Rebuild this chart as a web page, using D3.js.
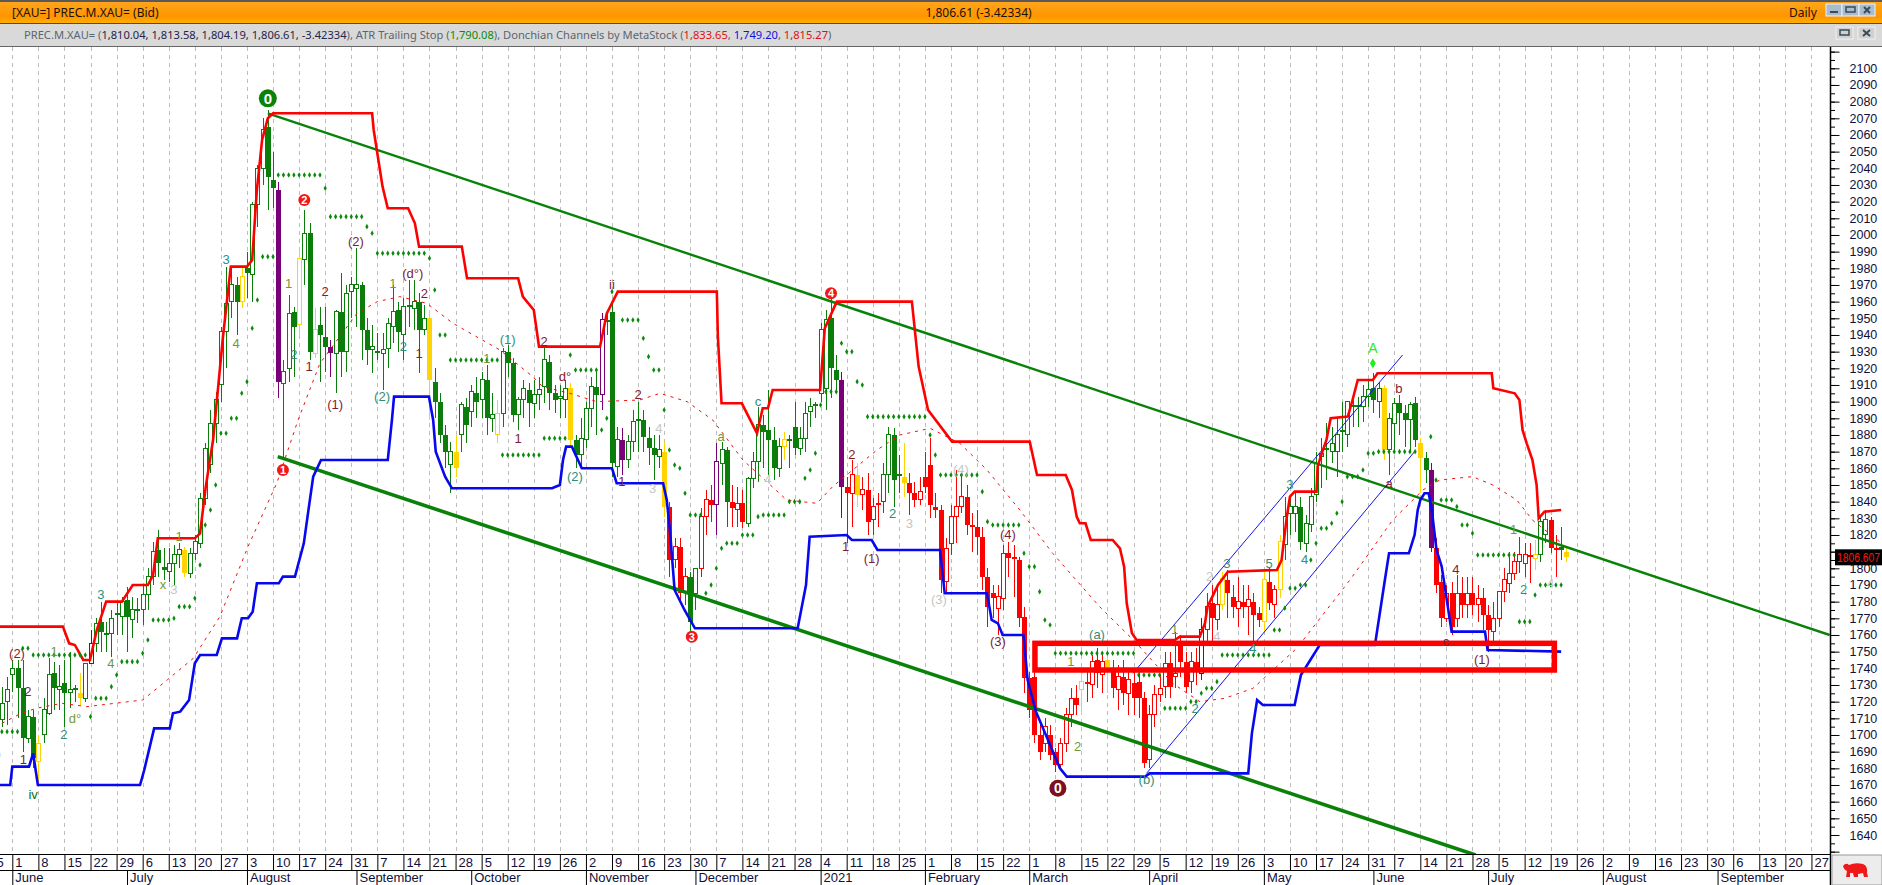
<!DOCTYPE html>
<html><head><meta charset="utf-8"><title>XAU Daily</title>
<style>html,body{margin:0;padding:0;background:#fff;overflow:hidden}svg{display:block}
text{font-family:"Liberation Sans",Arial,sans-serif}
.hdr{font-family:"Noto Sans",sans-serif;font-size:12px}</style>
<script src="https://cdn.jsdelivr.net/npm/d3@7/dist/d3.min.js"></script></head><body>
<script>
// ---------- header text ----------
const titleLeft = "[XAU=] PREC.M.XAU= (Bid)";
const titleMid = "1,806.61 (-3.42334)";
const titleRight = "Daily";
const legendRuns = [["PREC.M.XAU= (","#5a6570"],["1,810.04, 1,813.58, 1,804.19, 1,806.61, -3.42334","#24244a"],["), ATR Trailing Stop (","#5a6570"],["1,790.08","#0a8a0a"],["), Donchian Channels by MetaStock (","#5a6570"],["1,833.65","#e01010"],[", ","#5a6570"],["1,749.20","#1010e0"],[", ","#5a6570"],["1,815.27","#e01010"],[")","#5a6570"]];
// ---------- axes ----------
const priceLabels = d3.range(1640, 2101, 10).filter(p=>p!==1810);
const priceMinor = d3.range(1630, 2111, 5);
const weekLabels = ["25","1","8","15","22","29","6","13","20","27","3","10","17","24","31","7","14","21","28","5","12","19","26","2","9","16","23","30","7","14","21","28","4","11","18","25","1","8","15","22","1","8","15","22","29","5","12","19","26","3","10","17","24","31","7","14","21","28","5","12","19","26","2","9","16","23","30","6","13","20","27"];
const monthLabels = ["June","July","August","September","October","November","December","2021","February","March","April","May","June","July","August","September"];
const monthBars = [0,22,45,66,88,110,131,155,175,195,218,240,261,283,305,327];
// ---------- candles: [open, high, low, close, tag] (tag y = yellow, p = purple) ----------
const barsA = [[1709,1729,1705,1719],[1720,1735,1706,1727],[1736,1745,1726,1740],[1740,1745,1710,1728],[1728,1745,1690,1698],[1698,1715,1695,1711],[1711,1715,1680,1686],[1684,1700,1672,1695,"y"],[1700,1722,1695,1715],[1713,1746,1712,1736],[1737,1744,1715,1728],[1727,1742,1715,1729],[1731,1745,1705,1725],[1725.5,1750,1716,1727],[1728,1730,1720,1727],[1725,1737,1718,1722,"y"],[1722,1743,1720,1743],[1743,1763,1743,1755,"p"],[1755,1770,1750,1767],[1768,1780,1750,1762],[1760,1768,1750,1761],[1761,1775,1747,1770],[1773,1780,1760,1772],[1771,1783,1760,1780],[1781,1789,1750,1771],[1769,1783,1758,1775],[1775,1782,1767,1775.5],[1775,1790,1766,1784],[1784,1800,1775,1795],[1795,1816,1790,1810],[1811,1823,1795,1803],[1801,1812,1793,1799],[1798,1812,1792,1803],[1803,1814,1790,1808],[1808,1815,1800,1811],[1811,1813,1795,1797,"y"],[1797,1812,1794,1809],[1809,1820,1805,1816],[1815,1845,1812,1842],[1842,1875,1838,1872],[1862,1895,1857,1887],[1887,1906,1875,1901],[1910,1945,1900,1942]];
const barsB = [[1942,1981,1920,1959],[1960,1980,1950,1970],[1970,1975,1940,1960],[1960,1980,1956,1975,"y"],[1980,1990,1962,1977],[1976,2020,1960,2018],[2018,2042,2005,2040],[2040,2070,2030,2063],[2065,2075,2015,2035],[2033,2050,2016,2028],[2027,2032,1902,1912,"p"],[1911,1925,1867,1918],[1920,1964,1912,1953],[1954,1957,1915,1945],[1946,1991,1940,1986,"y"],[1985,2015,1970,2001],[2001,2007,1925,1930],[1929,1956,1926,1943,"y"],[1946,1957,1912,1940],[1939,1957,1918,1933],[1933,1937,1915,1929,"p"],[1929,1955,1905,1954],[1954,1977,1915,1930],[1930,1970,1918,1965],[1966,1975,1950,1970],[1968,1992,1945,1970],[1970,1972,1925,1943],[1943,1950,1922,1931],[1931,1946,1917,1933],[1930.5,1941,1925,1930],[1929,1941,1907,1931],[1932,1950,1920,1947],[1945,1970,1935,1954],[1955,1960,1930,1942],[1940,1962,1925,1957],[1957,1973,1945,1957.5],[1956,1973,1943,1960],[1960,1965,1917,1943],[1943,1958,1940,1950],[1950,1955,1889,1913,"y"],[1912,1920,1890,1900],[1900,1905,1875,1880]];
const barsC = [[1880,1886,1860,1870],[1862,1876,1845,1870],[1870,1880,1855,1860,"y"],[1880,1900,1870,1898],[1897,1902,1875,1886],[1894,1910,1885,1906],[1905,1915,1890,1900],[1901,1918,1890,1913],[1913,1922,1880,1890],[1890,1905,1882,1892],[1880,1901,1875,1893,"y"],[1893,1932,1885,1930],[1930,1934,1915,1923],[1923,1926,1888,1892],[1892,1903,1883,1901],[1901,1913,1890,1908],[1907,1911,1885,1899],[1899,1913,1890,1904],[1904,1915,1895,1907],[1909,1932,1899,1925],[1924,1928,1895,1905],[1905,1910,1893,1901],[1902,1910,1890,1903],[1901,1913,1890,1908],[1908,1911,1873,1877,"y"],[1877,1880,1860,1868],[1868,1890,1860,1878],[1877,1900,1872,1896],[1896,1915,1885,1909],[1909,1918,1880,1904],[1904,1953,1895,1949,"p"],[1948,1955,1940,1948.5],[1954,1960,1855,1863],[1861,1885,1855,1877],[1877,1884,1856,1865,"p"],[1865,1880,1860,1876],[1876,1895,1870,1888],[1889,1900,1870,1889.5],[1889,1895,1870,1879],[1878,1885,1862,1872],[1872,1880,1853,1868],[1867,1880,1860,1871],[1870,1876,1831,1837,"y"],[1837,1840,1795,1805]];
const barsD = [[1805,1818,1800,1813],[1813,1818,1780,1785],[1786,1800,1778,1795],[1795,1798,1762,1768],[1785,1796,1775,1800],[1800,1836,1795,1831],[1831,1847,1820,1841],[1841,1850,1828,1838],[1838,1875,1820,1864,"p"],[1863,1876,1850,1871],[1871,1873,1825,1840],[1840,1850,1825,1836],[1835,1849,1825,1839],[1839,1847,1824,1828],[1827,1855,1825,1854],[1854,1870,1848,1864],[1864,1897,1852,1886],[1886,1892,1860,1882],[1883,1907,1856,1877],[1877,1885,1853,1860],[1860,1878,1855,1873],[1873,1882,1865,1877,"y"],[1877,1880,1860,1877.5],[1885,1900,1868,1872],[1872,1885,1868,1878],[1878,1900,1870,1893],[1894,1902,1885,1897],[1898,1900,1890,1898.5],[1905,1947,1900,1943],[1908,1955,1895,1949],[1950,1962,1902,1920],[1919,1928,1905,1913],[1913,1918,1830,1849,"p"],[1849,1855,1815,1845],[1845,1865,1825,1856],[1856,1863,1837,1844,"y"],[1844,1855,1835,1847],[1847,1857,1820,1828],[1829,1842,1820,1837],[1838,1845,1825,1839]];
const barsE = [[1840,1863,1833,1856],[1856,1885,1845,1880],[1880,1884,1837,1853],[1856,1868,1845,1856.5],[1855,1875,1843,1851,"y"],[1851,1857,1832,1845],[1845,1852,1837,1841],[1841,1855,1838,1846],[1855,1870,1845,1849],[1862,1878,1830,1838],[1837,1845,1830,1835],[1835,1838,1785,1793],[1792,1818,1785,1812],[1815,1838,1808,1831],[1831,1859,1815,1837],[1837,1855,1833,1843],[1843,1850,1820,1826],[1826,1833,1810,1825],[1825,1835,1808,1819],[1819,1825,1787,1795],[1795,1800,1765,1777],[1785,1790,1770,1782],[1776,1790,1760,1783],[1782,1814,1775,1809],[1809,1816,1795,1806],[1806,1814,1783,1806.5],[1805,1807,1765,1770],[1771,1777,1725,1734],[1734,1738,1710,1715],[1735,1745,1695,1700],[1700,1708,1685,1690],[1695,1710,1690,1705],[1700,1706,1685,1688],[1690,1692,1678,1682],[1682,1698,1680,1695],[1695,1716,1690,1712],[1712,1728,1705,1722],[1722,1730,1712,1718],[1727,1740,1712,1732,"y"],[1732,1738,1720,1731],[1730,1748,1722,1744],[1745,1752,1728,1737],[1736,1750,1725,1744],[1745,1752,1725,1741,"y"],[1739,1745,1722,1728],[1727,1742,1715,1735],[1735,1745,1718,1725],[1725,1740,1712,1733],[1731,1738,1712,1722],[1732,1738,1710,1722]];
const barsF = [[1722,1726,1680,1683],[1685,1718,1680,1712],[1712,1730,1705,1724],[1724,1736,1720,1728],[1729,1750,1722,1743],[1743,1750,1722,1729],[1735,1762,1728,1737],[1754,1760,1735,1744],[1744,1750,1725,1729],[1732,1750,1725,1744],[1744,1752,1730,1738],[1737,1770,1733,1763,"p"],[1763,1785,1755,1777],[1779,1790,1755,1770],[1769,1790,1763,1778],[1778,1798,1775,1794,"y"],[1793,1799,1770,1785],[1783,1790,1770,1777],[1776,1795,1765,1780],[1780,1790,1770,1777],[1777,1790,1760,1781],[1780,1785,1755,1772],[1773,1777,1765,1769],[1768,1798,1762,1793,"y"],[1792,1800,1775,1779],[1778,1790,1770,1787],[1787,1820,1782,1816,"y"],[1814,1843,1805,1831],[1833,1843,1820,1837],[1833,1845,1822,1837],[1837,1843,1811,1816],[1815,1832,1810,1827],[1826,1848,1822,1843],[1844,1870,1840,1863],[1867,1878,1848,1869],[1871,1887,1853,1872],[1870,1885,1863,1875],[1870,1890,1855,1880],[1882,1900,1870,1882.5],[1880,1900,1873,1900],[1897,1905,1885,1897.5],[1897,1903,1885,1897.5]];
const barsG = [[1897,1910,1888,1903],[1903,1913,1897,1907],[1908,1917,1893,1901],[1900,1912,1890,1908],[1908,1910,1865,1871,"y"],[1871,1893,1856,1890],[1887,1902,1870,1899],[1899,1904,1880,1893],[1893,1898,1873,1889],[1889,1900,1870,1898],[1899,1903,1873,1877],[1875,1878,1845,1866,"y"],[1866,1870,1851,1859],[1859,1863,1810,1812,"p"],[1812,1818,1785,1790],[1792,1796,1765,1770],[1770,1790,1768,1785],[1785,1792,1760,1765],[1770,1796,1765,1785],[1785,1795,1770,1778],[1778,1795,1770,1785],[1785,1795,1772,1778],[1778,1790,1768,1782],[1782,1788,1763,1772],[1772,1778,1750,1763],[1762,1780,1755,1770],[1770,1786,1765,1786],[1786,1800,1780,1793],[1791,1810,1785,1797],[1797,1810,1793,1804],[1804,1819,1797,1808],[1803,1815,1795,1808],[1808,1815,1791,1807],[1806,1817,1799,1808,"y"],[1808,1830,1804,1828],[1820,1835,1815,1829],[1829,1831,1809,1812],[1811,1820,1795,1812],[1813,1825,1805,1811],[1810,1813.6,1804,1807,"y"]];
const candleSegments = [[-2,barsA],[41,barsB],[83,barsC],[127,barsD],[167,barsE],[217,barsF],[259,barsG]];
const redSpans = [[126,129],[132,134],[138,140],[160,166],[172,243],[273,291],[295,296]];
// ---------- indicator lines: [bar, price] ----------
const donchianUpper = [[-3,1765],[9.7,1765],[10.9,1755],[12,1754],[13.6,1745],[14.9,1745],[16.2,1763],[18,1780],[21,1780],[23.1,1790],[26,1790],[27,1796],[27.9,1818],[35,1818],[36,1821],[37.1,1849],[38.5,1877],[40.4,1939],[41.9,1981],[45,1981],[46,1985],[46.9,2027],[47.9,2057],[49,2070],[50,2073],[69,2073],[69.3,2063],[71,2029],[72,2016],[75.9,2016],[77.2,2007],[78,1993],[86.2,1993],[87.2,1974],[97,1974],[97.9,1963],[100,1955],[101,1933],[112.7,1933],[114,1953],[116.1,1966],[135.1,1966],[135.3,1939],[136,1899],[139.9,1899],[142.8,1881],[143.9,1896],[144.9,1896],[145.8,1907],[154.9,1907],[155.8,1944],[158.1,1960],[172.5,1960],[173.8,1921],[175.6,1895],[180.2,1876],[195.1,1876],[196.5,1856],[202,1856],[203.2,1847],[204.1,1831],[204.7,1827],[205.8,1827],[206.8,1817],[211,1817],[212.4,1812],[213.2,1801],[213.7,1779],[214.7,1761],[215.6,1757],[222.9,1757],[223.9,1759],[227.7,1759],[228.7,1767],[229.2,1777],[231.2,1790],[233.1,1798],[242.5,1799],[243.4,1805],[244.4,1831],[245,1843],[245.9,1846],[250.1,1846],[250.3,1861],[251.1,1869],[252,1877],[252.8,1890],[256.1,1891],[257,1901],[258,1913],[260.9,1913],[261.8,1917],[283.7,1917],[284,1908],[288.1,1905],[289,1901],[289.6,1883],[290.4,1875],[291.5,1865],[292.3,1850],[292.7,1830],[293.8,1834],[297,1835]];
const donchianLower = [[-3,1670],[-0.4,1670],[0,1681],[3.2,1681],[4,1689],[4.9,1670],[24.5,1670],[25.3,1679],[27.2,1704],[30.2,1704],[30.8,1713],[32.2,1714],[33.9,1721],[35,1743],[36,1748],[39.2,1748],[40.2,1758],[43.1,1758],[44,1770],[45.2,1770],[46.1,1774],[46.9,1791],[51.1,1791],[51.9,1795],[54.2,1795],[55.9,1815],[56.7,1833],[57.7,1855],[59.2,1865],[72,1865],[72.8,1889],[73.2,1903],[79.9,1903],[80.7,1889],[81.2,1870],[83,1855],[84.3,1848],[103.5,1848],[105,1850],[105.6,1865],[106.2,1873],[107.3,1873],[109.2,1860],[115,1860],[115.9,1851],[124.8,1851],[125.5,1841],[126.1,1823],[127,1787],[128.9,1775],[130.9,1764],[150.6,1764],[152.2,1790],[152.9,1819],[160,1820],[161,1817],[164.8,1817],[165.9,1811],[177.9,1811],[178.8,1785],[186.9,1785],[187.8,1769],[189,1767],[189.9,1760],[193.9,1760],[194.7,1733],[196.3,1714],[200.9,1680],[202.2,1675],[217.2,1675],[218.1,1677],[237,1677],[237.7,1701],[238.7,1721],[239.8,1718],[245.9,1718],[247.1,1736],[250.7,1754],[261.3,1754],[263.2,1793],[264,1809],[267.8,1809],[268.9,1820],[269.5,1835],[270,1841],[270.8,1845],[271.6,1845],[272.2,1835],[273.1,1811],[274.1,1801],[276,1762],[282.4,1762],[282.9,1751],[297,1750]];
const donchianMid = [[-2,1707],[1.1,1712],[4.5,1716],[9.5,1719],[14.3,1717],[25,1721],[29.7,1733],[34.7,1746],[39.8,1771],[45.2,1813],[50.7,1851],[54.8,1889],[59,1923],[66.1,1953],[70,1960],[74.3,1963],[79.5,1959],[84.5,1947],[93.5,1931],[99.8,1915],[101.7,1909],[106.9,1905],[112.1,1900],[120.3,1901],[124.2,1905],[129.4,1900],[134.3,1889],[140.1,1865],[148.5,1841],[154.3,1839],[157.3,1849],[165.8,1871],[170.2,1880],[176,1884],[181.7,1875],[186.9,1859],[193.2,1835],[199.5,1809],[208.5,1777],[215.6,1755],[222.5,1731],[227.7,1720],[232.5,1722],[237.9,1728],[246.3,1752],[256.5,1793],[264.7,1829],[270.5,1847],[273.7,1853],[280,1855],[283.9,1850],[288.5,1841],[291.5,1829],[296.7,1816]];
const channelTop = [[49,2073],[348.5,1760]];
const channelBottom = [[50.9,1867],[280.6,1628]];
const riseTop = [[214.9,1737],[266.6,1928]];
const riseBottom = [[217.5,1677],[268.9,1870]];
const zoneBox = [196.1,295.7,1755,1739];
// ---------- ATR trailing stop: [first bar, last bar, price] ----------
const stopRuns = [[-2,1,1702],[2,3,1752],[4,14,1748],[15,15,1711],[16,18,1722],[19,19,1729],[20,20,1736],[21,24,1744],[25,25,1749],[26,26,1757],[27,30,1769],[31,31,1770],[32,34,1777],[35,35,1782],[36,36,1802],[37,37,1826],[38,38,1835],[39,39,1850],[40,41,1881],[42,43,1890],[44,44,1905],[45,45,1912],[46,46,1944],[47,47,1961],[48,50,1987],[51,59,2036],[60,60,2028],[61,67,2011],[68,68,2005],[69,69,2001],[70,79,1989],[80,80,1986],[81,81,1967],[82,83,1940],[84,93,1925],[94,101,1868],[102,106,1878],[107,107,1928],[108,112,1919],[113,113,1883],[114,114,1890],[115,115,1966],[117,120,1949],[121,121,1938],[122,122,1927],[123,124,1919],[125,125,1895],[126,126,1871],[127,127,1862],[128,128,1860],[129,129,1845],[130,132,1832],[133,133,1785],[134,134,1790],[135,135,1800],[136,136,1812],[137,139,1815],[140,142,1820],[143,143,1831],[144,148,1832],[149,151,1840],[152,152,1854],[153,153,1859],[154,154,1869],[155,155,1898],[156,158,1906],[159,159,1935],[160,161,1930],[162,162,1912],[163,163,1910],[164,175,1891],[176,176,1880],[177,177,1868],[178,185,1856],[186,186,1846],[187,187,1828],[188,193,1826],[194,194,1809],[195,196,1801],[197,197,1786],[198,198,1769],[199,199,1766],[200,215,1749],[216,220,1736],[221,225,1716],[226,227,1720],[228,228,1725],[229,230,1728],[231,231,1732],[232,241,1748],[242,243,1763],[244,244,1776],[245,246,1788],[247,248,1790],[249,249,1805],[250,250,1815],[251,252,1824],[253,253,1827],[254,254,1833],[255,255,1840],[256,258,1855],[259,259,1859],[260,261,1869],[262,269,1870],[272,272,1879],[273,273,1853],[274,276,1841],[277,277,1837],[278,279,1826],[280,280,1821],[281,288,1808],[289,291,1768],[292,292,1784],[293,297,1790]];
const accentStop = [[260.9,1923]];
// ---------- wave labels: [bar, price, text, family] ----------
const waveBrown = [[0.9,1749,"(2)"],[3,1726,"2"],[2.1,1685,"1"],[-3.7,1689,"(1)"],[65.9,1996,"(2)"],[60,1966,"2"],[56.9,1921,"1"],[61.9,1898,"(1)"],[76.8,1977,"(d°)"],[79,1965,"2"],[78,1929,"1"],[102,1936,"2"],[106,1915,"d°"],[97,1878,"1"],[115,1970,"ii"],[120,1904,"2"],[116.9,1852,"1"],[161,1868,"2"],[159.8,1813,"1"],[164.8,1806,"(1)"],[190.9,1820,"(4)"],[189,1756,"(3)"],[264,1851,"a"],[276.8,1799,"4"],[265.9,1908,"b"],[281.8,1745,"(1)"],[274.9,1756,"c"]];
const waveTeal = [[17,1784,"3"],[9.9,1700,"2"],[41,1985,"3"],[54,1928,"2"],[75,1933,"2"],[70.9,1903,"(2)"],[95,1937,"(1)"],[107.9,1855,"(2)"],[143,1900,"c"],[168.8,1833,"2"],[208,1760,"(a)"],[232.9,1803,"3"],[241,1803,"5"],[237.9,1752,"4"],[245,1850,"3"],[217.5,1673,"(b)"],[226.8,1716,"2"],[247.8,1805,"4"],[289.8,1787,"2"]];
const waveOlive = [[8,1750,"1"],[18.9,1743,"4"],[28.9,1790,"x"],[32,1819,"1"],[12,1710,"d°"],[42.9,1935,"4"],[53,1971,"1"],[73,1971,"1"],[91,1926,"1"],[135.9,1879,"a"],[222.9,1763,"1"],[203,1744,"1"],[204.3,1693,"2"],[287.9,1823,"1"]];
const waveGrey = [[31,1787,"3"],[124,1884,"4"],[122.8,1848,"3"],[144.9,1853,"4"],[172,1827,"3"],[181.9,1859,"(4)"],[177.7,1781,"(3)"],[229.6,1795,"2"],[231,1759,"4"],[295,1791,"4"]];
const waveDark = [[4,1664,"iv"]];
const waveBright = [[260.9,1932,"A"]];
const markersRed = [[51.9,1859,"1"],[56,2021,"2"],[130.3,1759,"3"],[157,1965,"4"]];
const markerGreen = [[49,2082,"0"]];
const markerBrown = [[200.5,1668,"0"]];
const lastQuote = 1806.607;

// ---------- scales ----------
const W = 1882, H = 885;
const x = d3.scaleLinear().domain([0,295]).range([12.3,1550.7]);
const y = d3.scaleLinear().domain([2100,1640]).range([68.3,835]);
const svg = d3.select("body").append("svg").attr("width",W).attr("height",H);
const defs = svg.append("defs");
const grad = defs.append("linearGradient").attr("id","org").attr("x1",0).attr("x2",0).attr("y1",0).attr("y2",1);
grad.append("stop").attr("offset","0").attr("stop-color","#ffa51c");
grad.append("stop").attr("offset","0.7").attr("stop-color","#ff9500");
grad.append("stop").attr("offset","1").attr("stop-color","#ffb000");
defs.append("clipPath").attr("id","plot").append("rect").attr("x",0).attr("y",47).attr("width",1830).attr("height",807);

// chrome
svg.append("rect").attr("width",W).attr("height",2).attr("fill","#5a5a5a");
svg.append("rect").attr("y",2).attr("width",W).attr("height",21).attr("fill","url(#org)");
svg.append("rect").attr("y",23).attr("width",W).attr("height",1).attr("fill","#4a4a4a");
svg.append("rect").attr("y",24).attr("width",W).attr("height",22).attr("fill","#d9d9d9");
svg.append("rect").attr("y",46).attr("width",W).attr("height",1).attr("fill","#666");
svg.append("text").attr("class","hdr").attr("x",12).attr("y",17).attr("fill","#1a1208").text(titleLeft);
svg.append("text").attr("class","hdr").attr("x",978.5).attr("y",17).attr("text-anchor","middle").attr("fill","#1a1208").text(titleMid);
svg.append("text").attr("class","hdr").attr("x",1789).attr("y",17).attr("fill","#1a1208").text(titleRight);
const leg = svg.append("text").attr("class","hdr").attr("x",24).attr("y",39).style("font-size","11.15px");
legendRuns.forEach(r=>leg.append("tspan").attr("fill",r[1]).text(r[0]));
function winBtn(x0,y0,w,h,glyph,fill){
  const g=svg.append("g");
  g.append("rect").attr("x",x0).attr("y",y0).attr("width",w).attr("height",h).attr("fill",fill).attr("stroke","#eef2f6");
  const c="#3a4a5a";
  if(glyph==="min") g.append("rect").attr("x",x0+4).attr("y",y0+h-5).attr("width",w-8).attr("height",2).attr("fill",c);
  if(glyph==="max") g.append("rect").attr("x",x0+4).attr("y",y0+3).attr("width",w-8).attr("height",h-7).attr("fill","none").attr("stroke",c).attr("stroke-width",1.5);
  if(glyph==="x") g.append("path").attr("d",`M${x0+5} ${y0+3}L${x0+w-5} ${y0+h-3}M${x0+w-5} ${y0+3}L${x0+5} ${y0+h-3}`).attr("stroke",c).attr("stroke-width",2);
}
winBtn(1826,4,16,12,"min","#a9bccd");winBtn(1842,4,17,12,"max","#a9bccd");winBtn(1859,4,16,12,"x","#a9bccd");
winBtn(1836,27,17,12,"max","#d0d0d0");winBtn(1858,27,17,12,"x","#d0d0d0");

// gridlines, one per week label
const weekBars = weekLabels.map((_,k)=>(k-1)*5);
svg.append("g").selectAll("line").data(weekBars).join("line")
  .attr("x1",d=>Math.round(x(d))+.5).attr("x2",d=>Math.round(x(d))+.5).attr("y1",47).attr("y2",854)
  .attr("stroke","#bdbdbd").attr("stroke-dasharray","4,4");

// candles
const plot = svg.append("g").attr("clip-path","url(#plot)");
const candles = candleSegments.flatMap(([start,rows])=>rows.map((r,k)=>({i:start+k,o:r[0],h:r[1],l:r[2],c:r[3],tag:r[4]})));
const isRed = i=>redSpans.some(s=>i>=s[0]&&i<=s[1]);
const tone = d=>d.tag==="y"?"#ffd400":d.tag==="p"?"#7a007a":isRed(d.i)?"#ff0000":"#0a7d0a";
const cg = plot.append("g").attr("shape-rendering","crispEdges");
const px = d=>Math.round(x(d.i));
cg.selectAll("line").data(candles).join("line")
  .attr("x1",d=>px(d)+.5).attr("x2",d=>px(d)+.5).attr("y1",d=>y(d.h)).attr("y2",d=>y(d.l)).attr("stroke",tone);
cg.selectAll("rect").data(candles).join("rect")
  .attr("x",d=>d.c>=d.o?px(d)-1.5:px(d)-2).attr("width",d=>d.c>=d.o?4:5)
  .attr("y",d=>y(Math.max(d.o,d.c))).attr("height",d=>Math.max(d.c>=d.o?1:2,Math.abs(y(d.o)-y(d.c))))
  .attr("fill",d=>d.c>=d.o?"#fff":tone(d)).attr("stroke",d=>d.c>=d.o?tone(d):"none");

// lines
const line = d3.line().x(d=>x(d[0])).y(d=>y(d[1]));
plot.append("path").attr("d",line(donchianMid)).attr("fill","none").attr("stroke","#f01010").attr("stroke-dasharray","3,5");
[[channelTop,"#0a820a",2.4],[channelBottom,"#0a820a",3.6],[riseTop,"#1414e0",1],[riseBottom,"#1414e0",1]].forEach(([d,c,w])=>
  plot.append("path").attr("d",line(d)).attr("fill","none").attr("stroke",c).attr("stroke-width",w));
plot.append("path").attr("d",line(donchianLower)).attr("fill","none").attr("stroke","#0808f0").attr("stroke-width",2.6);
plot.append("path").attr("d",line(donchianUpper)).attr("fill","none").attr("stroke","#ff0000").attr("stroke-width",2.6);

// stop dots
const stopDots = stopRuns.flatMap(([a,b,p])=>d3.range(a,b+1).map(i=>[i,p]));
const diamond = d3.symbol().type(d3.symbolDiamond).size(9);
plot.append("g").selectAll("path").data(stopDots).join("path").attr("d",diamond)
  .attr("transform",d=>`translate(${x(d[0])},${y(d[1])})`).attr("fill","#0a8a0a");
plot.append("g").selectAll("path").data(accentStop).join("path").attr("d",d3.symbol().type(d3.symbolDiamond).size(30))
  .attr("transform",d=>`translate(${x(d[0])},${y(d[1])})`).attr("fill","#22ee22");

// zone rectangle
plot.append("rect").attr("x",x(zoneBox[0])).attr("width",x(zoneBox[1])-x(zoneBox[0]))
  .attr("y",y(zoneBox[2])).attr("height",y(zoneBox[3])-y(zoneBox[2]))
  .attr("fill","none").attr("stroke","#ff0000").attr("stroke-width",5.5);

// wave labels
function labels(rows,color,size){
  plot.append("g").selectAll("text").data(rows).join("text")
    .attr("x",d=>x(d[0])).attr("y",d=>y(d[1])+4.5).attr("text-anchor","middle")
    .attr("font-size",size||13).attr("fill",color).text(d=>d[2]);
}
labels(waveBrown,"#7e1c34");labels(waveTeal,"#2c8f7c");labels(waveOlive,"#6f9a3c");labels(waveGrey,"#c6c6c6");labels(waveDark,"#0a700a");labels(waveBright,"#22ee22",14);
function circles(rows,fill,r,size){
  const g=plot.append("g").selectAll("g").data(rows).join("g").attr("transform",d=>`translate(${x(d[0])},${y(d[1])})`);
  g.append("circle").attr("r",r).attr("fill",fill);
  g.append("text").attr("text-anchor","middle").attr("y",size*.36).attr("font-size",size).attr("font-weight","bold").attr("fill","#fff").text(d=>d[2]);
}
circles(markersRed,"#f01818",6,11);circles(markerGreen,"#0a820a",9,15);circles(markerBrown,"#7e0f1e",8.5,14);

// price axis
const axisMinor = d3.axisRight(y).tickValues(priceMinor).tickSize(5).tickFormat("");
const axisMajor = d3.axisRight(y).tickValues(d3.range(1630,2111,10)).tickSize(9.5).tickPadding(10)
  .tickFormat(d=>priceLabels.includes(d)?d:"");
[axisMinor,axisMajor].forEach(a=>{
  const g=svg.append("g").attr("transform","translate(1830,0)").call(a);
  g.select(".domain").remove();
  g.selectAll("line").attr("stroke","#000").attr("stroke-width",1);
  g.selectAll("text").attr("font-size",12.5).attr("fill","#10103a").attr("font-family","Liberation Sans");
});
svg.append("line").attr("x1",1830.5).attr("x2",1830.5).attr("y1",47).attr("y2",885).attr("stroke","#000").attr("stroke-width",1.5);
svg.append("rect").attr("x",1835).attr("y",y(lastQuote)-8).attr("width",47).attr("height",16).attr("fill","#000");
svg.append("text").attr("x",1837).attr("y",y(lastQuote)+4.5).attr("font-size",13).attr("fill","#ff1010")
  .attr("textLength",43).attr("lengthAdjust","spacingAndGlyphs").text(lastQuote.toFixed(3));

// date axes
const axWeek = d3.axisBottom(x).tickValues(weekBars).tickSize(16).tickFormat((d,k)=>weekLabels[k]);
const gw = svg.append("g").attr("transform","translate(0,854)").call(axWeek);
gw.select(".domain").remove();
gw.selectAll("line").attr("stroke","#000");
gw.selectAll("text").attr("text-anchor","start").attr("x",2.5).attr("y",2).attr("dy","0.85em").attr("font-size",13).attr("fill","#10103a");
const axMonth = d3.axisBottom(x).tickValues(monthBars).tickSize(15).tickFormat((d,k)=>monthLabels[k]);
const gm = svg.append("g").attr("transform","translate(0,870)").call(axMonth);
gm.select(".domain").remove();
gm.selectAll("line").attr("stroke","#000");
gm.selectAll("text").attr("text-anchor","start").attr("x",2.5).attr("y",1).attr("dy","0.85em").attr("font-size",13).attr("fill","#10103a");
svg.append("line").attr("x1",0).attr("x2",1830).attr("y1",854.5).attr("y2",854.5).attr("stroke","#000");
svg.append("line").attr("x1",0).attr("x2",1830).attr("y1",870.5).attr("y2",870.5).attr("stroke","#000");

// corner badge
svg.append("rect").attr("x",1832).attr("y",855).attr("width",50).attr("height",30).attr("fill","#ececec").attr("stroke","#9a9a9a");
svg.append("path").attr("transform","translate(1843,862)")
  .attr("d","M0 4 Q3 0 6 3 Q12 0 20 2 Q25 4 24 11 L25 15 L21 15 L20 11 L15 12 L15 15 L11 15 L10 11 L7 11 L7 15 L3 15 L4 9 Q1 8 0 4Z")
  .attr("fill","#f01818");
</script></body></html>
